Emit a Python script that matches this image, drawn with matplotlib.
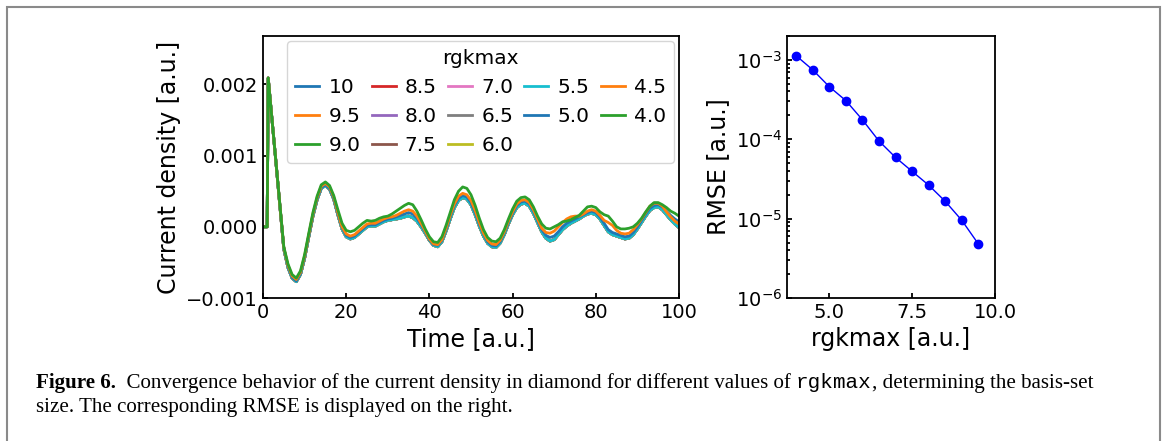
import numpy as np
import matplotlib
matplotlib.use("Agg")
import matplotlib.pyplot as plt
from matplotlib.patches import Rectangle
from matplotlib.transforms import IdentityTransform

# rgkmax values (legend order) and RMSE w.r.t. rgkmax = 10
rgkmax = [10, 9.5, 9.0, 8.5, 8.0, 7.5, 7.0, 6.5, 6.0, 5.5, 5.0, 4.5, 4.0]
rgk_rmse = [4.0, 4.5, 5.0, 5.5, 6.0, 6.5, 7.0, 7.5, 8.0, 8.5, 9.0, 9.5]
rmse = [1.13e-3, 7.5e-4, 4.6e-4, 3.07e-4, 1.76e-4, 9.5e-5, 5.9e-5,
        3.94e-5, 2.64e-5, 1.65e-5, 9.5e-6, 4.78e-6]

# time grid of the read-off samples
time = [0, 1, 1.25] + list(range(2, 101))

# current density in units of 1e-3 a.u.
# converged curves (rgkmax >= 5.5 lie on top of each other)
j_conv = [0, 0, 2.09, 1.61, 0.98, 0.33, -0.31, -0.57, -0.72, -0.77, -0.67, -0.44,
          -0.14, 0.15, 0.38, 0.54, 0.58, 0.53, 0.39, 0.17, -0.03, -0.14, -0.17,
          -0.15, -0.10, -0.05, 0.0, 0.01, 0.01, 0.04, 0.07, 0.09, 0.10, 0.11, 0.12,
          0.14, 0.15, 0.13, 0.08, 0.0, -0.09, -0.19, -0.26, -0.28, -0.21, -0.06,
          0.11, 0.27, 0.37, 0.41, 0.39, 0.31, 0.17, 0.01, -0.13, -0.23, -0.28,
          -0.29, -0.23, -0.11, 0.04, 0.17, 0.27, 0.32, 0.33, 0.29, 0.19, 0.06,
          -0.07, -0.16, -0.20, -0.18, -0.11, -0.04, 0.01, 0.05, 0.08, 0.11, 0.15,
          0.18, 0.19, 0.17, 0.11, 0.02, -0.07, -0.11, -0.13, -0.15, -0.17, -0.16,
          -0.11, -0.03, 0.06, 0.15, 0.23, 0.27, 0.28, 0.24, 0.17, 0.10, 0.04, -0.01]
j_50 = [0, 0, 2.09, 1.61, 0.98, 0.34, -0.30, -0.56, -0.71, -0.76, -0.66, -0.43,
        -0.13, 0.16, 0.39, 0.55, 0.59, 0.54, 0.40, 0.18, -0.01, -0.12, -0.15,
        -0.13, -0.08, -0.03, 0.02, 0.03, 0.03, 0.06, 0.09, 0.11, 0.12, 0.14, 0.16,
        0.18, 0.20, 0.18, 0.12, 0.03, -0.07, -0.18, -0.25, -0.26, -0.19, -0.04,
        0.14, 0.30, 0.40, 0.44, 0.42, 0.34, 0.20, 0.04, -0.10, -0.21, -0.26,
        -0.27, -0.21, -0.09, 0.06, 0.19, 0.30, 0.35, 0.36, 0.32, 0.22, 0.09,
        -0.04, -0.12, -0.15, -0.13, -0.07, 0.0, 0.05, 0.08, 0.11, 0.14, 0.17,
        0.20, 0.22, 0.20, 0.14, 0.05, -0.04, -0.08, -0.10, -0.12, -0.14, -0.13,
        -0.08, 0.0, 0.09, 0.18, 0.26, 0.30, 0.31, 0.28, 0.22, 0.16, 0.11, 0.07]
j_45 = [0, 0, 2.09, 1.61, 0.98, 0.34, -0.29, -0.54, -0.69, -0.74, -0.64, -0.41,
        -0.11, 0.18, 0.41, 0.57, 0.61, 0.56, 0.42, 0.20, 0.0, -0.10, -0.13,
        -0.11, -0.06, -0.01, 0.04, 0.05, 0.05, 0.08, 0.11, 0.13, 0.14, 0.16, 0.19,
        0.22, 0.24, 0.22, 0.15, 0.05, -0.06, -0.17, -0.24, -0.25, -0.18, -0.02,
        0.16, 0.32, 0.43, 0.47, 0.45, 0.37, 0.23, 0.06, -0.09, -0.19, -0.24,
        -0.25, -0.19, -0.07, 0.08, 0.21, 0.32, 0.37, 0.38, 0.34, 0.24, 0.11,
        -0.02, -0.08, -0.09, -0.06, 0.0, 0.06, 0.11, 0.14, 0.15, 0.15, 0.18,
        0.22, 0.24, 0.22, 0.16, 0.09, 0.06, 0.02, -0.05, -0.09, -0.10, -0.09,
        -0.04, 0.03, 0.11, 0.20, 0.29, 0.33, 0.33, 0.29, 0.21, 0.14, 0.08, 0.04]
j_40 = [0, 0, 2.09, 1.61, 0.98, 0.35, -0.28, -0.52, -0.67, -0.72, -0.62, -0.39,
        -0.09, 0.20, 0.43, 0.59, 0.63, 0.58, 0.44, 0.24, 0.05, -0.05, -0.07,
        -0.05, 0.0, 0.05, 0.09, 0.08, 0.09, 0.12, 0.14, 0.15, 0.18, 0.22, 0.26,
        0.30, 0.33, 0.31, 0.22, 0.10, -0.03, -0.14, -0.21, -0.22, -0.14, 0.02,
        0.20, 0.38, 0.50, 0.56, 0.54, 0.45, 0.30, 0.12, -0.04, -0.15, -0.20,
        -0.21, -0.16, -0.04, 0.11, 0.25, 0.36, 0.41, 0.42, 0.38, 0.28, 0.15,
        0.04, -0.02, -0.03, 0.0, 0.03, 0.07, 0.08, 0.10, 0.13, 0.16, 0.22,
        0.28, 0.29, 0.27, 0.21, 0.17, 0.15, 0.08, 0.0, -0.03, -0.03, -0.02,
        0.0, 0.05, 0.12, 0.21, 0.29, 0.34, 0.34, 0.31, 0.27, 0.22, 0.19, 0.15]

curves = {4.0: j_40, 4.5: j_45, 5.0: j_50}

plt.rcParams['font.family'] = 'DejaVu Sans'
plt.rcParams['axes.linewidth'] = 1.3

fig = plt.figure(figsize=(11.65, 4.41), dpi=100)

# left panel: time evolution
ax1 = fig.add_axes([263/1165, 1-298/441, 416/1165, 262/441])
for r in rgkmax:
    j = np.array(curves.get(r, j_conv)) * 1e-3
    ax1.plot(time, j, lw=2, label=str(r))
ax1.set_xlim(0, 100)
ax1.set_ylim(-0.001, 0.00268)
ax1.set_yticks([-0.001, 0.0, 0.001, 0.002])
ax1.set_xlabel("Time [a.u.]", fontsize=17)
ax1.set_ylabel("Current density [a.u.]", fontsize=17)
ax1.tick_params(direction='in', labelsize=14, width=1.3)
ax1.legend(title="rgkmax", ncol=5, loc='upper right', fontsize=14.5,
           title_fontsize=14.5, handlelength=1.2, handletextpad=0.45,
           columnspacing=0.55, borderaxespad=0.25, labelspacing=0.5)

# right panel: RMSE
ax2 = fig.add_axes([787/1165, 1-298/441, 208/1165, 262/441])
ax2.plot(rgk_rmse, rmse, 'o-', color='b', lw=1, ms=6)
ax2.set_yscale('log')
ax2.set_ylim(1e-6, 2e-3)
ax2.set_xlim(3.725, 10)
ax2.set_xticks([5, 7.5, 10])
ax2.set_xlabel("rgkmax [a.u.]", fontsize=17)
ax2.set_ylabel("RMSE [a.u.]", fontsize=17)
ax2.tick_params(which='both', direction='in', labelsize=14, width=1.3)

# page frame
fig.patches.append(Rectangle((7/1165, -0.2), 1153/1165, 1.2 - 7/441,
                             transform=fig.transFigure, fill=False,
                             edgecolor='#8a8a8a', lw=1.5))

# caption
def caption_line(x, y, pieces, size):
    rend = fig.canvas.get_renderer()
    arts = []
    for s, style in pieces:
        t = fig.text(x, y, s, transform=IdentityTransform(), fontsize=size,
                     va='baseline', **style)
        x += t.get_window_extent(rend).width
        arts.append(t)
    return x, arts

serif = dict(family='Liberation Serif')
bold = dict(family='Liberation Serif', weight='bold')
mono = dict(family='Liberation Mono')
line1 = [("Figure 6.", bold),
         ("  Convergence behavior of the current density in diamond for different values of ", serif),
         ("rgkmax", mono),
         (", determining the basis-set", serif)]
line2 = [("size. The corresponding RMSE is displayed on the right.", serif)]

size = 13
end, arts = caption_line(36, 441 - 388, line1, size)
for a in arts:
    a.remove()
size = size * (1090 - 36) / (end - 36)
caption_line(36, 441 - 388, line1, size)
caption_line(36, 441 - 412, line2, size)

fig.savefig("out.png", dpi=100)
